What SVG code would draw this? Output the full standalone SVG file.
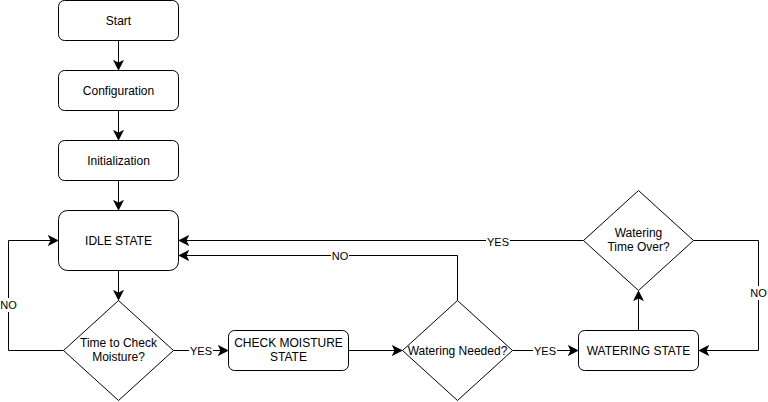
<svg xmlns="http://www.w3.org/2000/svg" width="768" height="402" viewBox="0 0 768 402">
<style>
.n{fill:#fff;stroke:#000;stroke-width:1}
.t{font-family:"Liberation Sans",Arial,sans-serif;font-size:12px;fill:#000;text-anchor:middle;dominant-baseline:central}
.e{fill:none;stroke:#000;stroke-width:1;marker-end:url(#a)}
.lb{fill:#fff}
.l{font-family:"Liberation Sans",Arial,sans-serif;font-size:11px;fill:#000;text-anchor:middle;dominant-baseline:central}
</style>
<defs>
<marker id="a" markerUnits="userSpaceOnUse" markerWidth="12" markerHeight="12" viewBox="-8 -5 10 10" refX="0" refY="0" orient="auto">
<path d="M0,0 L-7,-3.5 L-5.25,0 L-7,3.5 Z" fill="#000" stroke="#000" stroke-width="1"/>
</marker>
</defs>
<rect width="768" height="402" fill="#fff"/>
<g id="connectors">
<path class="e" d="M118.5,40.5 V69.5"/>
<path class="e" d="M118.5,110.5 V139.5"/>
<path class="e" d="M118.5,180.5 V209.5"/>
<path class="e" d="M118.5,270.5 V299.5"/>
<path class="e" d="M63.5,350.5 H8.5 V240.5 H57.5"/>
<path class="e" d="M173.5,350.5 H227.5"/>
<path class="e" d="M348.5,350.5 H401.5"/>
<path class="e" d="M457.5,300.5 V255.5 H179.5"/>
<path class="e" d="M512.5,350.5 H577.5"/>
<path class="e" d="M638.5,330.5 V291.5"/>
<path class="e" d="M583.5,240.5 H179.5"/>
<path class="e" d="M693.5,240.5 H758.5 V350.5 H699.5"/>
<g id="edge-labels">
<rect class="lb" x="0" y="298" width="17" height="14"/><text class="l" x="8.5" y="305">NO</text>
<rect class="lb" x="189" y="343" width="24" height="14"/><text class="l" x="201" y="350.5">YES</text>
<rect class="lb" x="331" y="248" width="18" height="14"/><text class="l" x="340" y="255.5">NO</text>
<rect class="lb" x="533" y="343" width="24" height="14"/><text class="l" x="545" y="350.5">YES</text>
<rect class="lb" x="486" y="235" width="24" height="14"/><text class="l" x="498" y="242">YES</text>
<rect class="lb" x="750" y="286" width="18" height="14"/><text class="l" x="758.5" y="293">NO</text>
</g>
</g>
<g id="start"><rect class="n" x="58.5" y="0.5" width="120" height="40" rx="6"/><text class="t" x="118.5" y="20.5">Start</text></g>
<g id="configuration"><rect class="n" x="58.5" y="70.5" width="120" height="40" rx="6"/><text class="t" x="118.5" y="90.5">Configuration</text></g>
<g id="initialization"><rect class="n" x="58.5" y="140.5" width="120" height="40" rx="6"/><text class="t" x="118.5" y="160.5">Initialization</text></g>
<g id="idle"><rect class="n" x="58.5" y="210.5" width="120" height="60" rx="9"/><text class="t" x="118.5" y="240.5">IDLE STATE</text></g>
<g id="time-check"><path class="n" d="M118.5,300.5 L173.5,350.5 L118.5,400.5 L63.5,350.5 Z"/><text class="t" x="118.5" y="343">Time to Check</text><text class="t" x="118.5" y="357">Moisture?</text></g>
<g id="check-moisture"><rect class="n" x="228.5" y="330.5" width="120" height="40" rx="6"/><text class="t" x="288.5" y="343">CHECK MOISTURE</text><text class="t" x="288.5" y="357">STATE</text></g>
<g id="watering-needed"><path class="n" d="M457.5,300.5 L512.5,350.5 L457.5,400.5 L402.5,350.5 Z"/><text class="t" x="457.5" y="350.5">Watering Needed?</text></g>
<g id="watering-state"><rect class="n" x="578.5" y="330.5" width="120" height="40" rx="6"/><text class="t" x="638.5" y="350.5">WATERING STATE</text></g>
<g id="time-over"><path class="n" d="M638.5,190.5 L693.5,240.5 L638.5,290.5 L583.5,240.5 Z"/><text class="t" x="638.5" y="233">Watering</text><text class="t" x="638.5" y="247">Time Over?</text></g>
</svg>
